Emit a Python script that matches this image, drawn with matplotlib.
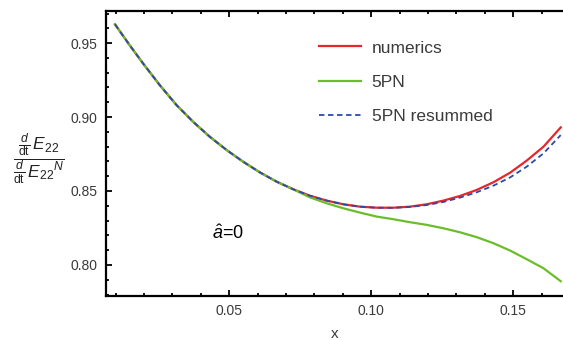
"""Energy flux ratio for the (2,2) mode: numerics vs 5PN and resummed 5PN."""
import numpy as np
import matplotlib
matplotlib.use('Agg')
import matplotlib.pyplot as plt
from matplotlib.ticker import MultipleLocator

plt.rcParams['font.family'] = ['Liberation Sans', 'DejaVu Sans']
plt.rcParams['mathtext.fontset'] = 'custom'
plt.rcParams['mathtext.rm'] = 'Liberation Sans'
plt.rcParams['mathtext.it'] = 'Liberation Sans:italic'

# values
# all three curves coincide up to x ~ 0.073
x_common = [0.0098, 0.0150, 0.0197, 0.0256, 0.0315, 0.0373, 0.0432, 0.0491,
            0.0549, 0.0608, 0.0667, 0.0726]
y_common = [0.9627, 0.9485, 0.9362, 0.9215, 0.9080, 0.8968, 0.8866, 0.8777,
            0.8698, 0.8626, 0.8563, 0.8511]

x_tail = [0.0784, 0.0843, 0.0902, 0.0960, 0.1019, 0.1078, 0.1136, 0.1195,
          0.1254, 0.1312, 0.1371, 0.1430, 0.1489, 0.1547, 0.1606, 0.1667]
numerics_tail = [0.8468, 0.8435, 0.8410, 0.8394, 0.8387, 0.8387, 0.8394, 0.8410,
                 0.8435, 0.8466, 0.8507, 0.8559, 0.8624, 0.8705, 0.8799, 0.8930]
resummed_tail = [0.8468, 0.8435, 0.8410, 0.8394, 0.8387, 0.8386, 0.8392, 0.8405,
                 0.8426, 0.8455, 0.8491, 0.8536, 0.8592, 0.8664, 0.8754, 0.8878]
pn5_tail = [0.8457, 0.8417, 0.8383, 0.8354, 0.8327, 0.8309, 0.8289, 0.8271,
            0.8248, 0.8221, 0.8188, 0.8147, 0.8097, 0.8039, 0.7978, 0.7890]

x = np.array(x_common + x_tail)
numerics = np.array(y_common + numerics_tail)
resummed = np.array(y_common + resummed_tail)
pn5 = np.array(y_common + pn5_tail)

RED = '#e6262a'
GREEN = '#6cbd2a'
BLUE = '#2b4ba8'
GREY = '#3a3a3a'

fig = plt.figure(figsize=(5.63, 3.41), dpi=100)
ax = fig.add_axes([0.188, 0.132, 0.812, 0.837])

l_num, = ax.plot(x, numerics, color=RED, lw=1.6, zorder=2, label='numerics',
                 solid_joinstyle='round')
l_pn, = ax.plot(x, pn5, color=GREEN, lw=1.6, zorder=3, label='5PN',
                solid_joinstyle='round')
l_res, = ax.plot(x, resummed, color=BLUE, lw=1.3, ls=(0, (3, 2)), zorder=4,
                 label='5PN resummed')

ax.set_xlim(0.00658, 0.1675)
ax.set_ylim(0.779, 0.972)

ax.xaxis.set_major_locator(MultipleLocator(0.05))
ax.xaxis.set_minor_locator(MultipleLocator(0.01))
ax.yaxis.set_major_locator(MultipleLocator(0.05))
ax.yaxis.set_minor_locator(MultipleLocator(0.01))
ax.xaxis.set_major_formatter(lambda v, p: f'{v:.2f}')
ax.yaxis.set_major_formatter(lambda v, p: f'{v:.2f}')

ax.tick_params(which='both', direction='in', top=True, right=False,
               labelsize=10, labelcolor=GREY, color='black', width=1.3)
ax.tick_params(which='major', length=4.5, pad=6)
ax.tick_params(which='minor', length=2.5)

for side in ('left', 'bottom', 'top'):
    ax.spines[side].set_linewidth(1.6)
ax.spines['right'].set_visible(False)

ax.set_xlabel('x', fontsize=11, color=GREY, labelpad=6)
fig.text(0.069, 1 - 159 / 341,
         r'$\dfrac{\frac{d}{\mathrm{dt}}\,E_{22}}{\frac{d}{\mathrm{dt}}\,E_{22}{}^{N}}$',
         fontsize=12.5, ha='center', va='center', color='#222222')

ax.text(0.0497, 0.8215, r'$\hat{a}$=0', fontsize=13, ha='center', va='center')

leg = ax.legend(handles=[l_num, l_pn, l_res], loc='upper left',
                bbox_to_anchor=(0.452, 0.92), frameon=False, fontsize=12.5,
                labelspacing=1.1, handlelength=2.4, handletextpad=0.6,
                borderaxespad=0)
for t in leg.get_texts():
    t.set_color(GREY)

fig.savefig('out.png', dpi=100)
